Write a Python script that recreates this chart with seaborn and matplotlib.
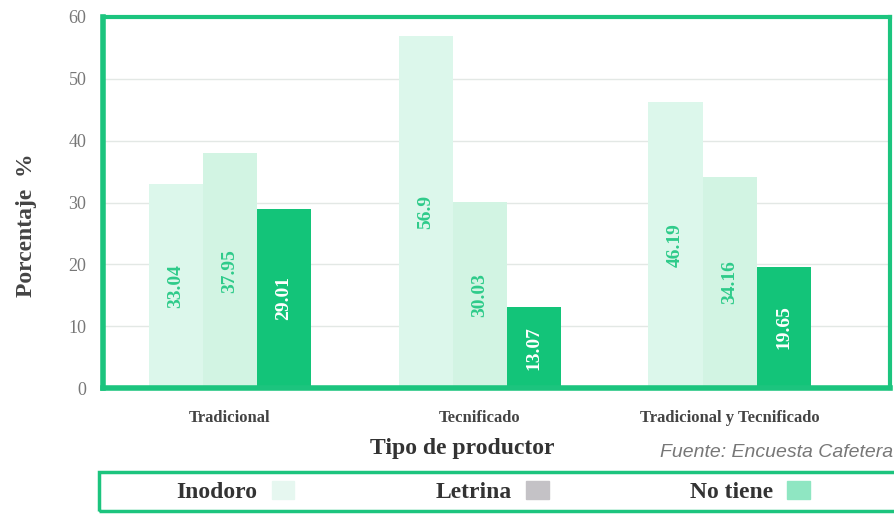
import matplotlib.pyplot as plt
import matplotlib.patches as mpatches
import pandas as pd
import seaborn as sns

# datos
productores = ['Tradicional', 'Tecnificado', 'Tradicional y Tecnificado']
servicios = ['Inodoro', 'Letrina', 'No tiene']
inodoro = [33.04, 56.9, 46.19]
letrina = [37.95, 30.03, 34.16]
no_tiene = [29.01, 13.07, 19.65]

df = pd.DataFrame({
    'productor': productores * 3,
    'servicio': ['Inodoro'] * 3 + ['Letrina'] * 3 + ['No tiene'] * 3,
    'valor': inodoro + letrina + no_tiene,
})

verde = '#1cc47e'
bar_colors = {'Inodoro': '#dcf7eb', 'Letrina': '#d2f4e3', 'No tiene': '#13c479'}
legend_colors = ['#e6f7f0', '#c4c2c6', '#8fe6c2']

sns.set_style('white')
plt.rcParams['font.family'] = ['Liberation Serif', 'DejaVu Serif']

fig = plt.figure(figsize=(8.95, 5.14), dpi=100)
ax = fig.add_axes([0.115, 0.245, 0.879, 0.722])

sns.barplot(data=df, x='productor', y='valor', hue='servicio',
            palette=bar_colors, width=0.65, dodge=True, ax=ax,
            legend=False, saturation=1, edgecolor='none')

ax.set_ylim(0, 60)
ax.set_xlim(-0.508, 2.64)
ax.set_yticks(range(0, 61, 10))
ax.yaxis.grid(True, color='#e3e8e5', linewidth=1)
ax.set_axisbelow(True)
for s in ax.spines.values():
    s.set_color(verde)
    s.set_linewidth(3)
ax.spines['left'].set_linewidth(4)
ax.spines['bottom'].set_linewidth(4)

ax.tick_params(axis='y', labelsize=13, labelcolor='#777777', length=0, pad=12)
ax.tick_params(axis='x', labelsize=12, labelcolor='#444444', length=0, pad=16)
for t in ax.get_xticklabels():
    t.set_fontweight('bold')

ax.set_xlabel('Tipo de productor', fontsize=17, fontweight='bold', color='#333333')
ax.set_ylabel('Porcentaje  %', fontsize=17, fontweight='bold', color='#444444')
ax.xaxis.set_label_coords(0.457, -0.135)
ax.yaxis.set_label_coords(-0.084, 0.44)

# etiquetas de valores dentro de las barras
for i, cont in enumerate(ax.containers):
    color = 'white' if i == 2 else '#2ecb8a'
    for rect in cont:
        h = rect.get_height()
        ax.text(rect.get_x() + rect.get_width() / 2, h / 2, f'{h:g}',
                rotation=90, ha='center', va='center', fontsize=14,
                fontweight='bold', color=color)

fig.text(0.998, 0.12, 'Fuente: Encuesta Cafetera', ha='right', va='center',
         fontsize=14, style='italic', color='#777777', family='Liberation Sans')

# marco de la leyenda
fig.patches.append(mpatches.Rectangle((0.111, 0.006), 0.895, 0.075, transform=fig.transFigure,
                                      fill=False, edgecolor=verde, linewidth=2.5))

handles = [mpatches.Patch(color=c, label=l) for c, l in zip(legend_colors, servicios)]
leg = fig.legend(handles=handles, loc='center', bbox_to_anchor=(0.551, 0.043),
                 ncol=3, markerfirst=False, frameon=False,
                 prop={'family': 'Liberation Serif', 'weight': 'bold', 'size': 17},
                 handlelength=0.95, handleheight=0.8, handletextpad=0.6,
                 columnspacing=6.0, borderaxespad=0)
for t in leg.get_texts():
    t.set_color('#333333')

fig.savefig('out.png', dpi=100)
